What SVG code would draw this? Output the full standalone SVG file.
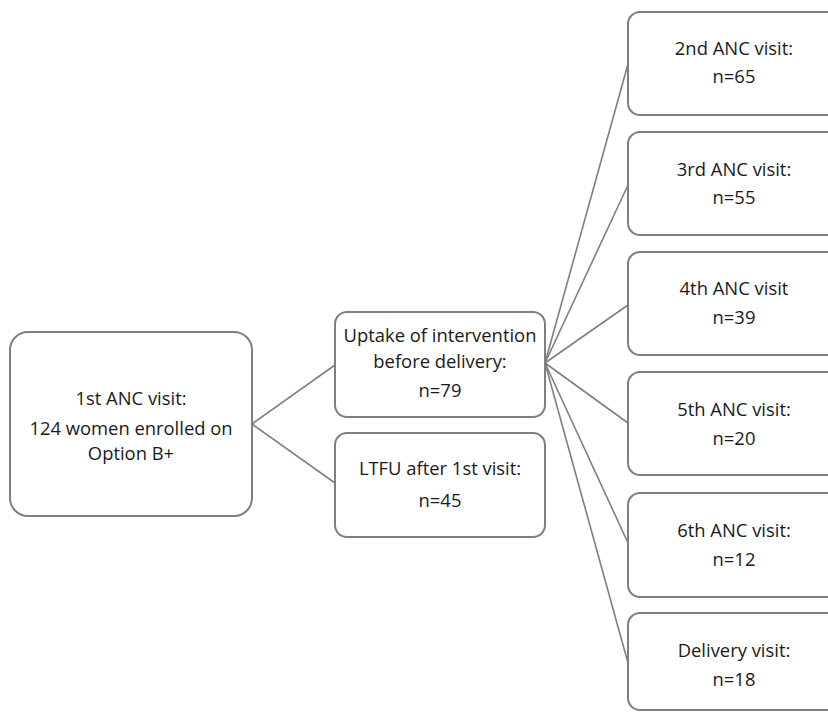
<svg xmlns="http://www.w3.org/2000/svg" width="828" height="712" viewBox="0 0 828 712">
<style>
.box{fill:#ffffff;stroke:#7f7f7f;stroke-width:2}
.ln{stroke:#7f7f7f;stroke-width:1.6;fill:none}
text{font-family:"Open Sans","Liberation Sans",sans-serif;font-size:18.4px;fill:#1a1a1a;text-anchor:middle}
</style>
<rect width="828" height="712" fill="#ffffff"/>
<g id="connectors">
<line class="ln" x1="252" y1="424" x2="335" y2="365"/>
<line class="ln" x1="252" y1="424" x2="335" y2="483"/>
<line class="ln" x1="545" y1="363" x2="628" y2="64"/>
<line class="ln" x1="545" y1="363" x2="628" y2="185"/>
<line class="ln" x1="545" y1="363" x2="628" y2="305"/>
<line class="ln" x1="545" y1="363" x2="628" y2="423"/>
<line class="ln" x1="545" y1="363" x2="628" y2="543"/>
<line class="ln" x1="545" y1="363" x2="628" y2="663"/>
</g>
<g id="n1">
<rect class="box" x="10" y="332" width="242" height="184" rx="18"/>
<text x="131" y="405">1st ANC visit:</text>
<text x="131" y="435">124 women enrolled on</text>
<text x="131" y="460">Option B+</text>
</g>
<g id="uptake">
<rect class="box" x="335" y="312" width="210" height="105" rx="12"/>
<text x="440" y="342">Uptake of intervention</text>
<text x="440" y="367.5">before delivery:</text>
<text x="440" y="397">n=79</text>
</g>
<g id="ltfu">
<rect class="box" x="335" y="433" width="210" height="104" rx="12"/>
<text x="440" y="475">LTFU after 1st visit:</text>
<text x="440" y="507">n=45</text>
</g>
<g id="v2">
<rect class="box" x="628" y="12" width="220" height="103" rx="12"/>
<text x="734" y="55">2nd ANC visit:</text>
<text x="734" y="83">n=65</text>
</g>
<g id="v3">
<rect class="box" x="628" y="132" width="220" height="103" rx="12"/>
<text x="734" y="176">3rd ANC visit:</text>
<text x="734" y="204">n=55</text>
</g>
<g id="v4">
<rect class="box" x="628" y="252" width="220" height="103" rx="12"/>
<text x="734" y="295">4th ANC visit</text>
<text x="734" y="324">n=39</text>
</g>
<g id="v5">
<rect class="box" x="628" y="372" width="220" height="103" rx="12"/>
<text x="734" y="416">5th ANC visit:</text>
<text x="734" y="445">n=20</text>
</g>
<g id="v6">
<rect class="box" x="628" y="493" width="220" height="104" rx="12"/>
<text x="734" y="537">6th ANC visit:</text>
<text x="734" y="566">n=12</text>
</g>
<g id="delivery">
<rect class="box" x="628" y="613" width="220" height="97" rx="12"/>
<text x="734" y="657">Delivery visit:</text>
<text x="734" y="686">n=18</text>
</g>
</svg>
